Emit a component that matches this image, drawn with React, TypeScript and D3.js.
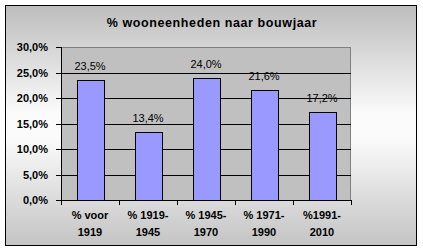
import React from "react";
import * as d3 from "d3";

const categories: string[][] = [
  ["% voor", "1919"],
  ["% 1919-", "1945"],
  ["% 1945-", "1970"],
  ["% 1971-", "1990"],
  ["%1991-", "2010"],
];
const values: number[] = [23.5, 13.4, 24.0, 21.6, 17.2];
const yTicks: number[] = [0, 5, 10, 15, 20, 25, 30];
const title = "% wooneenheden naar bouwjaar";

const fmt = (v: number) => v.toFixed(1).replace(".", ",") + "%";

export default function App() {
  const W = 423, H = 251;
  const left = 61, right = 351, top = 47, bottom = 200;
  const x = d3.scaleBand<number>().domain(d3.range(values.length)).range([left, right]).paddingInner(0.54).paddingOuter(0.27);
  const xb = d3.scaleBand<number>().domain(d3.range(values.length)).range([left, right]);
  const y = d3.scaleLinear().domain([0, 30]).range([bottom, top]);
  const font = "'Liberation Sans', Arial, sans-serif";
  return (
    <svg width={W} height={H} style={{ position: "absolute", left: 0, top: 0 }}>
      <defs>
        <linearGradient id="bg" x1="0" y1="0" x2="0" y2="1">
          <stop offset="0" stopColor="#bdbdbd" />
          <stop offset="0.45" stopColor="#fbfbfb" />
          <stop offset="0.55" stopColor="#fbfbfb" />
          <stop offset="1" stopColor="#c4c4c4" />
        </linearGradient>
      </defs>
      <rect x={0} y={0} width={W} height={H} fill="#fff" />
      <rect x={5.5} y={5.5} width={411} height={240} fill="url(#bg)" stroke="#000" strokeWidth={1} />
      <text x={212} y={27} textAnchor="middle" fontFamily={font} fontWeight="bold" fontSize={12.5} letterSpacing={0.6} fill="#000">{title}</text>
      <rect x={left + 0.5} y={top + 0.5} width={right - left - 1} height={bottom - top} fill="#c0c0c0" stroke="#808080" strokeWidth={1} />
      {yTicks.map((t) => (
        <g key={t}>
          {t > 0 && t < 30 && (
            <line x1={left} x2={right} y1={Math.round(y(t)) + 0.5} y2={Math.round(y(t)) + 0.5} stroke="#000" strokeWidth={1} />
          )}
          <line x1={left - 5} x2={left} y1={Math.round(y(t)) + 0.5} y2={Math.round(y(t)) + 0.5} stroke="#000" strokeWidth={1} />
          <text x={48} y={y(t) + 4} textAnchor="end" fontFamily={font} fontWeight="bold" fontSize={11} fill="#000">{fmt(t)}</text>
        </g>
      ))}
      <line x1={left + 0.5} x2={left + 0.5} y1={top} y2={bottom + 0.5} stroke="#000" />
      <line x1={left} x2={right} y1={bottom + 0.5} y2={bottom + 0.5} stroke="#000" />
      {d3.range(values.length + 1).map((i) => {
        const xx = Math.round(left + i * xb.bandwidth()) + 0.5;
        return <line key={i} x1={xx} x2={xx} y1={bottom} y2={bottom + 5} stroke="#000" />;
      })}
      {values.map((v, i) => (
        <g key={i}>
          <rect x={Math.round(x(i)!) + 0.5} y={Math.round(y(v)) + 0.5} width={Math.round(x.bandwidth())} height={bottom - Math.round(y(v))} fill="#9999ff" stroke="#000" strokeWidth={1} />
          <text x={x(i)! + x.bandwidth() / 2} y={y(v) - 10} textAnchor="middle" fontFamily={font} fontSize={11} fill="#000">{fmt(v)}</text>
          {categories[i].map((line, j) => (
            <text key={j} x={xb(i)! + xb.bandwidth() / 2} y={219 + j * 17} textAnchor="middle" fontFamily={font} fontWeight="bold" fontSize={11} fill="#000">{line}</text>
          ))}
        </g>
      ))}
    </svg>
  );
}
